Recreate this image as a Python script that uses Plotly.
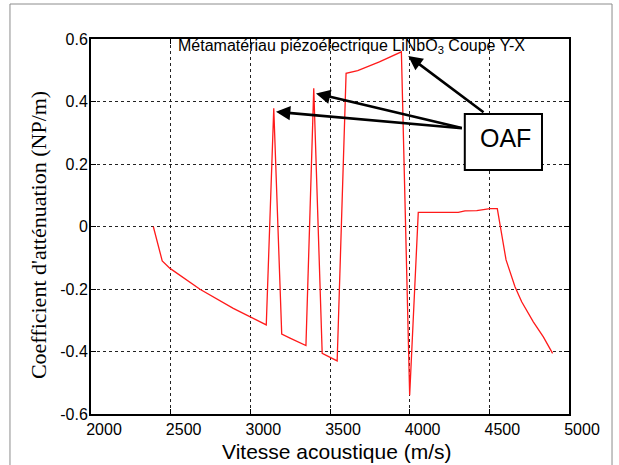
import plotly.graph_objects as go

# ---- data ----
velocity = [2391, 2447, 2496, 2684, 2893, 3100, 3147, 3197, 3249, 3349, 3398,
            3451, 3545, 3601, 3674, 3810, 3948, 4000, 4054, 4305, 4347, 4421,
            4504, 4550, 4605, 4661, 4703, 4776, 4839, 4897]
attenuation = [0.0, -0.110, -0.134, -0.201, -0.262, -0.315, 0.378, -0.344, -0.357,
               -0.381, 0.442, -0.406, -0.430, 0.490, 0.499, 0.527, 0.559, -0.540,
               0.045, 0.045, 0.050, 0.051, 0.057, 0.057, -0.107, -0.193, -0.241,
               -0.305, -0.353, -0.406]

x_tickvals = [2000, 2500, 3000, 3500, 4000, 4500, 5000]
x_ticktext = ["2000", "2500", "3000", "3500", "4000", "4500", "5000"]
y_tickvals = [-0.6, -0.4, -0.2, 0, 0.2, 0.4, 0.6]
y_ticktext = ["-0.6", "-0.4", "-0.2", "0", "0.2", "0.4", "0.6"]

# OAF arrows: (tip x, tip y, tail x, tail y)
oaf_arrows = [
    (3161, 0.367, 4337, 0.314),
    (3412, 0.426, 4337, 0.314),
    (3991, 0.546, 4473, 0.362),
]

title_text = "Métamatériau piézoélectrique LiNbO<sub>3</sub> Coupe Y-X"
x_title = "Vitesse acoustique (m/s)"
y_title = "Coefficient d'atténuation (NP/m)"

SANS = "Liberation Sans, Arial, sans-serif"
SERIF = "Liberation Serif, Times New Roman, serif"

fig = go.Figure()
fig.add_trace(go.Scatter(x=velocity, y=attenuation, mode="lines",
                         line=dict(color="#ff1a1a", width=1.3),
                         showlegend=False, hoverinfo="x+y"))

axis_common = dict(showline=True, linecolor="black", linewidth=2, mirror="ticks",
                   ticks="inside", ticklen=5, tickwidth=1, tickcolor="black",
                   showgrid=True, gridcolor="#222222", griddash="dot", gridwidth=1,
                   zeroline=False, tickfont=dict(family=SANS, size=16, color="black"))

fig.update_xaxes(range=[2000, 5000], tickvals=x_tickvals, ticktext=x_ticktext,
                 ticklabelshift=13, **axis_common)
fig.update_yaxes(range=[-0.6, 0.6], tickvals=y_tickvals, ticktext=y_ticktext,
                 ticklabelstandoff=-2, **axis_common)

annotations = []
for tx, ty, sx, sy in oaf_arrows:
    annotations.append(dict(x=tx, y=ty, ax=sx, ay=sy, xref="x", yref="y",
                            axref="x", ayref="y", text="", showarrow=True,
                            arrowhead=2, arrowsize=1.1, arrowwidth=2.6,
                            arrowcolor="black", standoff=0, startstandoff=0))

annotations += [
    dict(text=title_text, xref="paper", yref="paper", x=0.545, y=0.979,
         xanchor="center", yanchor="middle", showarrow=False,
         font=dict(family=SANS, size=16, color="black")),
    dict(text="OAF", xref="paper", yref="paper", x=0.868, y=0.737,
         xanchor="center", yanchor="middle", showarrow=False,
         font=dict(family=SANS, size=25, color="black")),
    dict(text=x_title, xref="paper", yref="paper", x=0.514, y=-0.101,
         xanchor="center", yanchor="middle", showarrow=False,
         font=dict(family=SANS, size=21, color="black")),
    dict(text=y_title, xref="paper", yref="paper", x=-0.111, y=0.477,
         xanchor="center", yanchor="middle", showarrow=False, textangle=-90,
         font=dict(family=SERIF, size=22, color="black")),
]

shapes = [
    # OAF box
    dict(type="rect", xref="paper", yref="paper", x0=0.782, x1=0.9435,
         y0=0.651, y1=0.80, line=dict(color="black", width=2),
         fillcolor="white", layer="above"),
    # gray page frame
    dict(type="path", xref="paper", yref="paper",
         path="M -0.1695,-0.2 L -0.1695,1.0933 L 1.09,1.0933 L 1.09,-0.2",
         line=dict(color="#8c8c8c", width=1)),
]

fig.update_layout(width=619, height=465, margin=dict(l=91, r=50, t=39, b=51),
                  paper_bgcolor="white", plot_bgcolor="white",
                  annotations=annotations, shapes=shapes)

fig.write_html("out.html", config={"displayModeBar": False},
               post_script="document.body.style.margin='0';"
                           "document.body.style.overflow='hidden';")
